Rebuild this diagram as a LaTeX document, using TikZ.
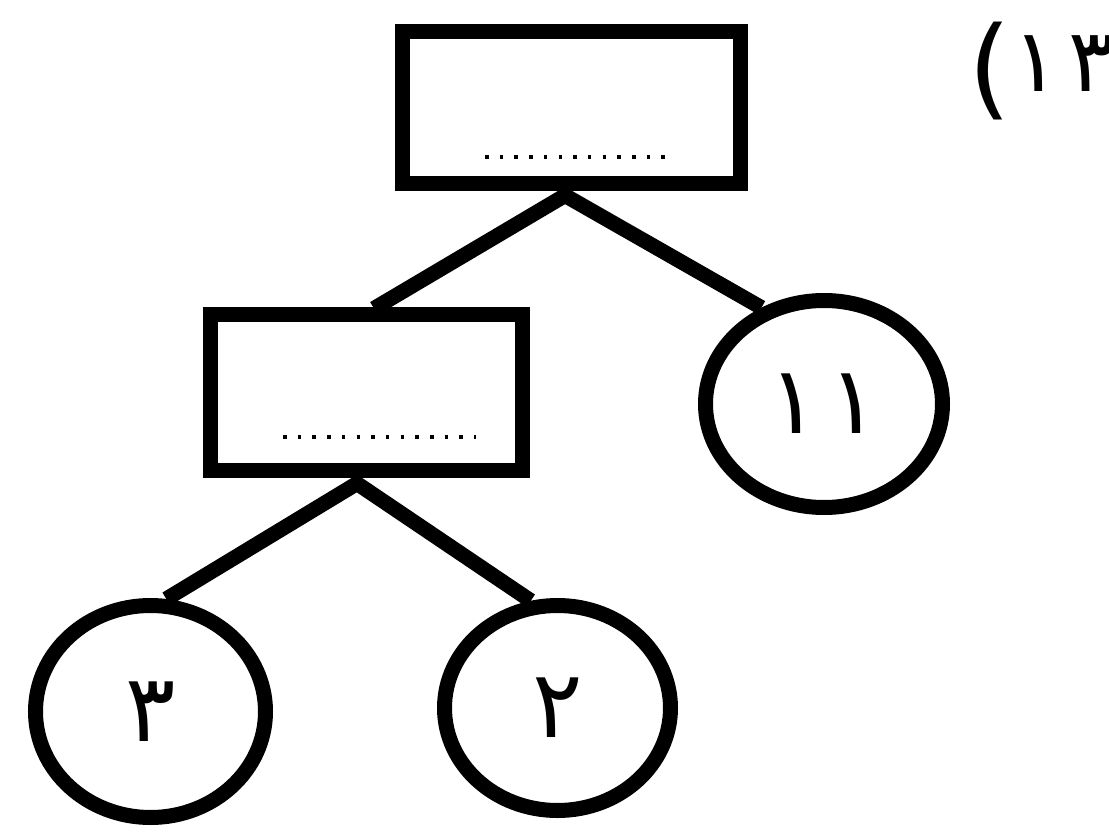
\documentclass[tikz,border=0pt]{standalone}
\usepackage{fontspec}
\newfontfamily\digitfont{DejaVu Sans}
\newfontfamily\digitfontwide[LetterSpace=10]{DejaVu Sans}
\newfontfamily\parenfont[Script=Latin]{DejaVu Sans}
\usetikzlibrary{shapes.geometric,calc}
\tikzset{
  box/.style={draw, line width=15pt, rectangle, inner sep=0pt},
  numcircle/.style={draw, line width=15pt, ellipse, inner sep=0pt, font=\digitfont\fontsize{94}{100}\selectfont},
  edge/.style={line width=15pt},
  blank/.style={line width=3.5pt, dash pattern=on 3.5pt off 11.2pt}
}
\begin{document}
\begin{tikzpicture}[x=1pt,y=-1pt]
\useasboundingbox (0,0) rectangle (1109,832);
\fill[white] (0,0) rectangle (1109,832);
% boxes
\node[box, minimum width=338pt, minimum height=152pt] (top) at (571,108) {};
\node[box, minimum width=312pt, minimum height=156pt] (box2) at (366,392) {};
% blanks
\draw[blank] (485,157) -- (666,157);
\draw[blank] (283,437) -- (476,437);
% circles
\node[numcircle, minimum width=237pt, minimum height=207pt] (c11) at (824,404) {\digitfontwide ١١};
\node[numcircle, minimum width=230pt, minimum height=212pt] (c3) at (150.5,711.5) {٣};
\node[numcircle, minimum width=226pt, minimum height=205pt] (c2) at (557.5,708) {٢};
% label
\node[anchor=base west, inner sep=0pt, font=\digitfontwide\fontsize{88}{100}\selectfont] (lbl) at (968,92) {\raisebox{-14pt}{\parenfont\fontsize{110}{112}\selectfont(}\hspace{1pt}١٣};
% connectors
\coordinate (a1) at ($(top.south)+(-6,4)$);
\coordinate (a2) at ($(box2.south)+(-9,6)$);
\draw[edge, line join=round] ($(box2.north)+(8,2)$) -- (a1) -- (c11.123);
\draw[edge, line join=round] (c3.82) -- (a2) -- (c2.104);
\end{tikzpicture}
\end{document}
